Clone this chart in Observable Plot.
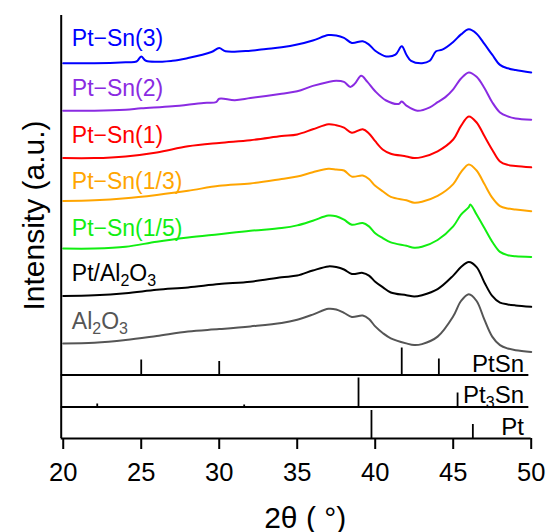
<!DOCTYPE html>
<html>
<head>
<meta charset="utf-8">
<script src="https://cdn.jsdelivr.net/npm/d3@7"></script>
<script src="https://cdn.jsdelivr.net/npm/@observablehq/plot@0.6"></script>
<style>
  html, body { margin: 0; padding: 0; background: #fff; }
  #chart { width: 547px; height: 532px; }
</style>
</head>
<body>
<div id="chart"></div>
<script>
// ---- data (stacked intensity, a.u.) ----
const seriesNames = ["Pt−Sn(3)", "Pt−Sn(2)", "Pt−Sn(1)", "Pt−Sn(1/3)", "Pt−Sn(1/5)", "Pt/Al_2O_3", "Al_2O_3"];
const seriesColors = ["#0000ff", "#8a2be2", "#ff0000", "#ffa500", "#11ee11", "#000000", "#555555"];
const labelY = [393, 343, 296, 250, 203, 158, 110];
const labelX = 20.55;

const ptsn3 = [[20,375.3],[22,375.3],[24,376.3],[24.7,377],[25,382.1],[25.3,377.7],[27,377.7],[28,380.4],[29.5,386.5],[30,390.5],[30.4,387.2],[32,387.8],[33,389.5],[34,391.2],[35,393.9],[36,398],[37,403.4],[37.5,403.1],[38,400.7],[38.5,395.6],[39.2,397.3],[39.6,393.9],[40,387.8],[40.7,382.1],[41.3,383.8],[41.7,392.2],[42,383.8],[42.3,377.7],[43,375.3],[43.5,377.7],[43.9,387.2],[44.3,388.8],[45,396.6],[45.5,404.1],[46,409.2],[46.5,404.8],[47,394.6],[47.5,383.8],[48,373.6],[48.5,370.2],[49,368.5],[50,366.1]];
const ptsn2 = [[20,327.8],[22,327.8],[24,328.8],[25,330.2],[27,332.2],[29,335.6],[29.8,336.3],[30,339.7],[31,338.3],[32,340.4],[34,344.8],[35,347.2],[36,352.6],[37,356.6],[37.5,357.7],[38,356.6],[38.4,351.6],[38.7,354.9],[39.1,362.7],[39.5,356.6],[40,347.2],[40.7,338],[41.5,334.6],[41.7,337],[42,332.9],[42.7,327.8],[43.5,331.2],[44,336.3],[44.5,341.4],[45,349.2],[45.5,360],[46,366.1],[46.5,361.7],[47,350.5],[47.5,336.3],[48,326.1],[48.5,322.1],[49,320],[50,318.7]];
const ptsn1 = [[20,280.4],[22,280.4],[24,282.1],[26,286.1],[28,292.2],[30,295.6],[32,298.3],[34,302.4],[35,304.1],[36,309.2],[37,314.3],[37.5,313.3],[38,310.9],[38.5,305.8],[39.2,309.2],[39.6,305.1],[40,297.3],[40.5,288.8],[41,284.8],[42,282.1],[42.5,280.4],[43,281.4],[44,287.2],[45,299],[45.5,312.6],[46,322.1],[46.5,316],[47,302.4],[47.5,288.8],[48,277],[48.5,273.6],[49,272.6],[50,271.2]];
const ptsn13 = [[20,237.5],[22,238.2],[24,240.2],[26,243.6],[28,247.7],[30,252.7],[32,255.1],[34,259.5],[35,261.9],[36,266.3],[37,269.7],[37.5,269],[38,268],[38.5,261.9],[39.2,262.9],[39.6,259.5],[40,252.7],[40.5,247],[41,241.6],[42,238.2],[42.5,235.8],[43,236.8],[44,242.6],[45,254.4],[45.5,266.3],[46,274.1],[46.5,268],[47,254.4],[47.5,240.9],[48,232.4],[48.5,230],[49,229],[50,227.3]];
const ptsn15 = [[20,190],[22,190],[24,191.7],[26,196.8],[28,200.9],[30,204.3],[32,207.7],[34,210.4],[35,213.1],[36,217.8],[37,222.9],[37.5,222.2],[38,218.8],[38.5,213.8],[39.2,215.5],[39.6,212.1],[40,205.3],[40.5,200.2],[41,196.1],[42,192.7],[42.5,190.7],[43,191.7],[44,198.5],[45,212.1],[45.5,223.9],[46,231.4],[46.1,234.1],[46.5,223.9],[47,210.4],[47.5,196.8],[48,186.6],[48.5,183.3],[49,182.2],[50,181.6]];
const ptAl2o3 = [[20,142.6],[22,143.3],[24,145.3],[26,148.7],[28,151.1],[30,154.4],[32,156.8],[34,161.2],[35,162.9],[36,168],[37,172.1],[37.5,171.4],[38,169],[38.5,164.6],[39.2,165.6],[39.6,162.9],[40,156.8],[40.5,151.1],[41,146],[42,143.3],[42.5,141.9],[43,143.3],[44,149.4],[45,162.9],[45.5,171.4],[46,176.5],[46.5,171.4],[47,156.1],[47.5,142.6],[48,135.8],[48.5,134.1],[49,133.1],[50,131.7]];
const al2o3 = [[20,95.1],[22,95.8],[24,98.5],[26,102.6],[28,107],[30,109.4],[32,112.1],[34,115.5],[35,118.8],[36,123.9],[37,129.7],[37.5,129],[38,125.6],[38.5,121.6],[39.2,122.9],[39.6,119.5],[40,112.1],[40.5,105.3],[41,100.2],[42,95.1],[42.5,93.4],[43,94.4],[44,101.9],[45,122.2],[45.5,137.5],[46,144.3],[46.5,137.5],[47,118.8],[47.5,101.9],[48,93.4],[48.5,90],[49,88.3],[50,86.6]];
const seriesData = [ptsn3, ptsn2, ptsn1, ptsn13, ptsn15, ptAl2o3, al2o3];

// reference patterns: [2theta, relative height]
const refNames = ["PtSn", "Pt_3Sn", "Pt"];
const refBase = [63.5, 31.5, 0];
const refLabelY = [67, 36, 3.7];
const ptsnSticks = [[25, 15], [30, 13.5], [41.7, 27], [44.08, 16]];
const pt3snSticks = [[22.18, 3], [31.6, 2], [38.93, 29], [45.28, 14]];
const ptSticks = [[39.76, 28], [46.26, 14]];
const refSticks = [ptsnSticks, pt3snSticks, ptSticks];

const xTicks = [20, 25, 30, 35, 40, 45, 50];
const xDomain = [19.87, 50];
const yDomain = [0, 423];

// ---- chart ----
const font = "'Liberation Sans', Arial, Helvetica, sans-serif";
const marks = [];
seriesData.forEach((s, i) => {
  marks.push(Plot.line(s, {x: d => d[0], y: d => d[1], stroke: seriesColors[i], strokeWidth: 2, curve: "catmull-rom"}));
});
marks.push(Plot.text(seriesNames.map((n, i) => ({n, y: labelY[i], c: seriesColors[i]})), {
  x: () => labelX, y: d => d.y, text: d => d.n, fill: d => d.c, textAnchor: "start", lineAnchor: "bottom", fontSize: 23
}));
refSticks.forEach((sticks, k) => {
  marks.push(Plot.ruleX(sticks, {x: d => d[0], y1: () => refBase[k], y2: d => refBase[k] + d[1], stroke: "#000", strokeWidth: 1.8}));
});
marks.push(Plot.ruleY(refBase.slice(0, 2), {x1: () => xDomain[0], x2: () => 49.85, y: d => d, stroke: "#000", strokeWidth: 1.8}));
marks.push(Plot.ruleY([0], {x1: () => xDomain[0], x2: () => xDomain[1], y: d => d, stroke: "#000", strokeWidth: 2}));
marks.push(Plot.ruleX([xDomain[0]], {x: d => d, stroke: "#000", strokeWidth: 2}));
marks.push(Plot.text(refNames.map((n, k) => ({n, y: refLabelY[k]})), {
  x: () => 49.54, y: d => d.y, text: d => d.n, fill: "#000", textAnchor: "end", lineAnchor: "bottom", fontSize: 24
}));
marks.push(Plot.axisX({ticks: xTicks, tickSize: 11, tickPadding: 13, strokeWidth: 2, fontSize: 25.5, label: null, fill: "#000"}));
marks.push(Plot.text(["2θ ( °)"], {frameAnchor: "bottom", text: d => d, dx: 9, dy: 89, lineAnchor: "bottom", fontSize: 30, fill: "#000"}));
marks.push(Plot.text(["Intensity (a.u.)"], {frameAnchor: "left", text: d => d, rotate: -90, dx: -17.7, dy: -11.5, lineAnchor: "bottom", textAnchor: "middle", fontSize: 30, fill: "#000"}));

const svg = Plot.plot({
  width: 547,
  height: 532,
  marginLeft: 60.7,
  marginRight: 16.3,
  marginTop: 15,
  marginBottom: 94,
  style: {fontFamily: font, fontSize: "24px", background: "#fff", color: "#000"},
  x: {domain: xDomain, label: null},
  y: {domain: yDomain, axis: null, label: null},
  marks
});

// subscripts: "_d" -> subscript digit
svg.querySelectorAll("text").forEach(t => {
  const s = t.textContent;
  if (!s.includes("_")) return;
  const parts = s.split(/_(\d)/);
  t.textContent = "";
  let shifted = false;
  parts.forEach((p, i) => {
    if (p === "") return;
    const ts = document.createElementNS("http://www.w3.org/2000/svg", "tspan");
    ts.textContent = p;
    if (i % 2 === 1) {
      ts.setAttribute("font-size", "16");
      ts.setAttribute("dy", shifted ? "0" : "5");
      shifted = true;
    } else if (shifted) {
      ts.setAttribute("dy", "-5");
      shifted = false;
    }
    t.appendChild(ts);
  });
});

document.getElementById("chart").appendChild(svg);
</script>
</body>
</html>
